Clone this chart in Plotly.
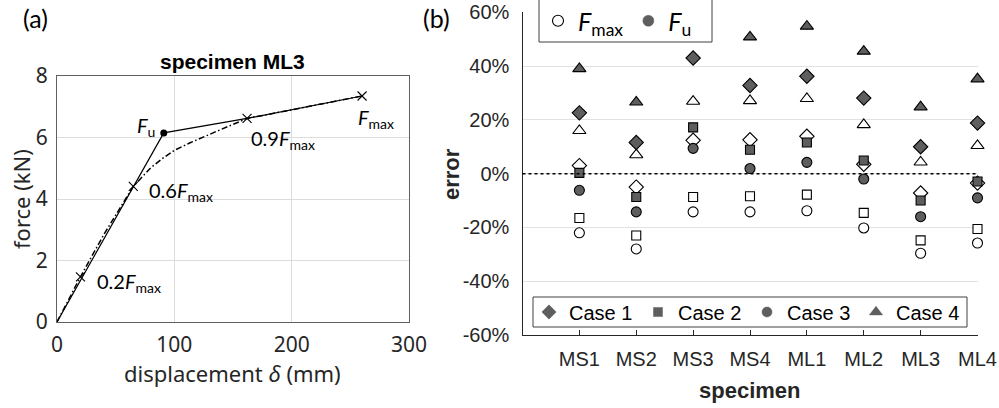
import plotly.graph_objects as go

# ---------------- Panel (a): force-displacement of specimen ML3 ----------------
disp_curve = [0, 20, 40, 65, 80, 90, 100, 113, 136, 162, 200, 230, 260]
force_curve = [0, 1.47, 2.85, 4.41, 5.02, 5.32, 5.58, 5.82, 6.20, 6.62, 6.90, 7.12, 7.35]
model_disp = [0, 91, 162, 260]
model_force = [0, 6.15, 6.62, 7.35]
char_disp = [20, 65, 162, 260]
char_force = [1.47, 4.41, 6.62, 7.35]
char_labels = ["0.2<i>F</i><sub>max</sub>", "0.6<i>F</i><sub>max</sub>",
               "0.9<i>F</i><sub>max</sub>", "<i>F</i><sub>max</sub>"]
fu_disp = [91]
fu_force = [6.15]

# ---------------- Panel (b): error per specimen ----------------
specimens = ["MS1", "MS2", "MS3", "MS4", "ML1", "ML2", "ML3", "ML4"]
spec_pos = [1, 2, 3, 4, 5, 6, 7, 8]
case1_fmax = [3.0, -5.0, 12.4, 12.6, 13.9, 3.5, -7.2, -3.5]
case2_fmax = [-16.5, -23.0, -8.7, -8.4, -7.8, -14.6, -24.8, -20.6]
case3_fmax = [-22.0, -28.0, -14.2, -14.2, -13.8, -20.2, -29.6, -25.8]
case4_fmax = [16.0, 7.0, 26.9, 27.1, 27.9, 18.2, 4.3, 10.4]
case1_fu = [22.6, 11.6, 43.0, 32.8, 36.2, 28.1, 10.0, 18.8]
case2_fu = [0.3, -8.7, 17.2, 8.9, 11.6, 4.9, -10.0, -2.9]
case3_fu = [-6.2, -14.2, 9.4, 1.9, 4.2, -2.0, -16.0, -9.0]
case4_fu = [39.0, 26.6, None, 50.8, 54.8, 45.5, 24.8, 35.2]
err_ticks = [-60, -40, -20, 0, 20, 40, 60]
err_ticktext = ["-60%", "-40%", "-20%", "0%", "20%", "40%", "60%"]

GRAY = "#5e5e5e"
TXT = "#262626"
ARIAL = "Liberation Sans, Arial, sans-serif"
CAL = "Lato, Carlito, sans-serif"
SEG = "Noto Sans, Open Sans, sans-serif"

fig = go.Figure()

# Panel (a)
fig.add_trace(go.Scatter(x=disp_curve, y=force_curve, mode="lines",
                         line=dict(color="black", width=1.5, dash="6px,2.5px,1.5px,2.5px"),
                         showlegend=False, xaxis="x", yaxis="y"))
fig.add_trace(go.Scatter(x=model_disp, y=model_force, mode="lines",
                         line=dict(color="black", width=1.2),
                         showlegend=False, xaxis="x", yaxis="y"))
fig.add_trace(go.Scatter(x=char_disp, y=char_force, mode="markers",
                         marker=dict(symbol="x-thin-open", size=9, color="black",
                                     line=dict(width=1.1, color="black")),
                         showlegend=False, xaxis="x", yaxis="y", cliponaxis=False))
fig.add_trace(go.Scatter(x=fu_disp, y=fu_force, mode="markers",
                         marker=dict(symbol="circle", size=7, color="black"),
                         showlegend=False, xaxis="x", yaxis="y"))

# Panel (b)
symbols = ["diamond", "square", "circle", "triangle-up"]
sizes = [11, 9, 10, 11.5]
fmax_sets = [case1_fmax, case2_fmax, case3_fmax, case4_fmax]
fu_sets = [case1_fu, case2_fu, case3_fu, case4_fu]
for sym, sz, vals in zip(symbols, sizes, fmax_sets):
    fig.add_trace(go.Scatter(x=spec_pos, y=vals, mode="markers", cliponaxis=False,
                             marker=dict(symbol=sym, size=sz, color="white",
                                         line=dict(color="black", width=1.1)),
                             showlegend=False, xaxis="x2", yaxis="y2"))
for sym, sz, vals in zip(symbols, sizes, fu_sets):
    fig.add_trace(go.Scatter(x=spec_pos, y=vals, mode="markers", cliponaxis=False,
                             marker=dict(symbol=sym, size=sz, color=GRAY,
                                         line=dict(color="black", width=1.1)),
                             showlegend=False, xaxis="x2", yaxis="y2"))

# legend entries: cases
for i, (sym, sz) in enumerate(zip(symbols, sizes)):
    fig.add_trace(go.Scatter(x=[None], y=[None], mode="markers", name=f"Case {i+1}",
                             marker=dict(symbol=sym, size=sz, color=GRAY,
                                         line=dict(color=GRAY, width=0.5)),
                             legend="legend", xaxis="x2", yaxis="y2"))
# legend entries: Fmax / Fu
fig.add_trace(go.Scatter(x=[None], y=[None], mode="markers", name="<i>F</i><sub>max</sub>",
                         marker=dict(symbol="circle", size=11, color="white",
                                     line=dict(color="black", width=1.1)),
                         legend="legend2", xaxis="x2", yaxis="y2"))
fig.add_trace(go.Scatter(x=[None], y=[None], mode="markers", name="<i>F</i><sub>u</sub>",
                         marker=dict(symbol="circle", size=11, color=GRAY,
                                     line=dict(color=GRAY, width=0.5)),
                         legend="legend2", xaxis="x2", yaxis="y2"))

W, H = 999, 408
def px(x):
    return x / W
def py(y):
    return 1 - y / H

fig.add_shape(type="line", xref="x2 domain", yref="y2", x0=0, x1=1, y0=0, y1=0,
              line=dict(color="black", width=1.5, dash="dot"))
# legend frames
fig.add_shape(type="rect", xref="paper", yref="paper", layer="above",
              x0=px(533), x1=px(967), y0=py(327), y1=py(297),
              fillcolor="white", line=dict(color="#404040", width=1))
fig.add_shape(type="rect", xref="paper", yref="paper", layer="above",
              x0=px(539), x1=px(712), y0=py(42), y1=py(-5),
              fillcolor="white", line=dict(color="#404040", width=1))

annotations = []
# panel (a) point labels
lab_pos = [(32, 1.27), (77, 4.23), (164, 5.92), (255, 6.63)]
for (xx, yy), t in zip(lab_pos, char_labels):
    annotations.append(dict(x=xx, y=yy, xref="x", yref="y", text=t, showarrow=False,
                            xanchor="left", yanchor="middle",
                            font=dict(family=CAL, size=20, color="black")))
annotations.append(dict(x=85, y=6.35, xref="x", yref="y", text="<i>F</i><sub>u</sub>",
                        showarrow=False, xanchor="right", yanchor="middle",
                        font=dict(family=CAL, size=20, color="black")))
# titles / labels
annotations += [
    dict(x=px(35), y=py(18), xref="paper", yref="paper", text="(a)", showarrow=False,
         xanchor="center", yanchor="middle", font=dict(family=CAL, size=25, color="black")),
    dict(x=px(436), y=py(18), xref="paper", yref="paper", text="(b)", showarrow=False,
         xanchor="center", yanchor="middle", font=dict(family=CAL, size=25, color="black")),
    dict(x=px(232), y=py(61), xref="paper", yref="paper", text="<b>specimen ML3</b>",
         showarrow=False, xanchor="center", yanchor="middle",
         font=dict(family=ARIAL, size=21, color="black")),
    dict(x=px(232), y=py(373), xref="paper", yref="paper",
         text="displacement <i>δ</i> (mm)", showarrow=False, xanchor="center",
         yanchor="middle", font=dict(family=SEG, size=22, color=TXT)),
    dict(x=px(21), y=py(199), xref="paper", yref="paper", text="force (kN)",
         showarrow=False, textangle=-90, xanchor="center", yanchor="middle",
         font=dict(family=SEG, size=22, color=TXT)),
    dict(x=px(750), y=py(390), xref="paper", yref="paper", text="<b>specimen</b>",
         showarrow=False, xanchor="center", yanchor="middle",
         font=dict(family=ARIAL, size=22, color=TXT)),
    dict(x=px(451), y=py(174), xref="paper", yref="paper", text="<b>error</b>",
         showarrow=False, textangle=-90, xanchor="center", yanchor="middle",
         font=dict(family=ARIAL, size=22, color=TXT)),
]

fig.update_layout(
    width=W, height=H, margin=dict(l=0, r=0, t=0, b=0, autoexpand=False),
    paper_bgcolor="white", plot_bgcolor="white",
    annotations=annotations,
    xaxis=dict(domain=[px(57), px(409)], range=[0, 300], tickvals=[0, 100, 200, 300],
               showgrid=True, gridcolor="#dcdcdc", zeroline=False, showline=True,
               linecolor="#606060", linewidth=1, mirror=True, ticks="",
               ticklabelstandoff=4,
               tickfont=dict(family=SEG, size=21, color=TXT)),
    yaxis=dict(domain=[py(322), py(76)], range=[0, 8], tickvals=[0, 2, 4, 6, 8],
               showgrid=True, gridcolor="#dcdcdc", zeroline=False, showline=True,
               linecolor="#606060", linewidth=1, mirror=True, ticks="",
               ticklabelstandoff=4,
               tickfont=dict(family=SEG, size=21, color=TXT)),
    xaxis2=dict(domain=[px(522.5), px(977.5)], range=[0, 8], tickvals=spec_pos,
                ticktext=specimens, showgrid=False, zeroline=False, showline=True,
                linecolor=TXT, linewidth=1.2, ticks="inside", ticklen=5, tickcolor=TXT,
                ticklabelstandoff=6, anchor="y2",
                tickfont=dict(family=ARIAL, size=20, color=TXT)),
    yaxis2=dict(domain=[py(335), py(12.3)], range=[-60, 60], tickvals=err_ticks,
                ticktext=err_ticktext, showgrid=True, gridcolor="#e2e2e2", zeroline=False,
                showline=True, linecolor=TXT, linewidth=1.2, ticks="", anchor="x2",
                ticklabelstandoff=8,
                tickfont=dict(family=ARIAL, size=20, color=TXT)),
    legend=dict(orientation="h", x=px(529), y=py(312), xanchor="left", yanchor="middle",
                bgcolor="rgba(0,0,0,0)", borderwidth=0,
                font=dict(family=ARIAL, size=20, color="black"),
                entrywidth=64, itemwidth=30, tracegroupgap=0),
    legend2=dict(orientation="h", x=px(538), y=py(21), xanchor="left", yanchor="middle",
                 bgcolor="rgba(0,0,0,0)", borderwidth=0,
                 font=dict(family=CAL, size=25, color="black"), itemwidth=30),
)

fig.write_html("out.html", config={"displayModeBar": False},
               post_script="document.body.style.margin='0';")
